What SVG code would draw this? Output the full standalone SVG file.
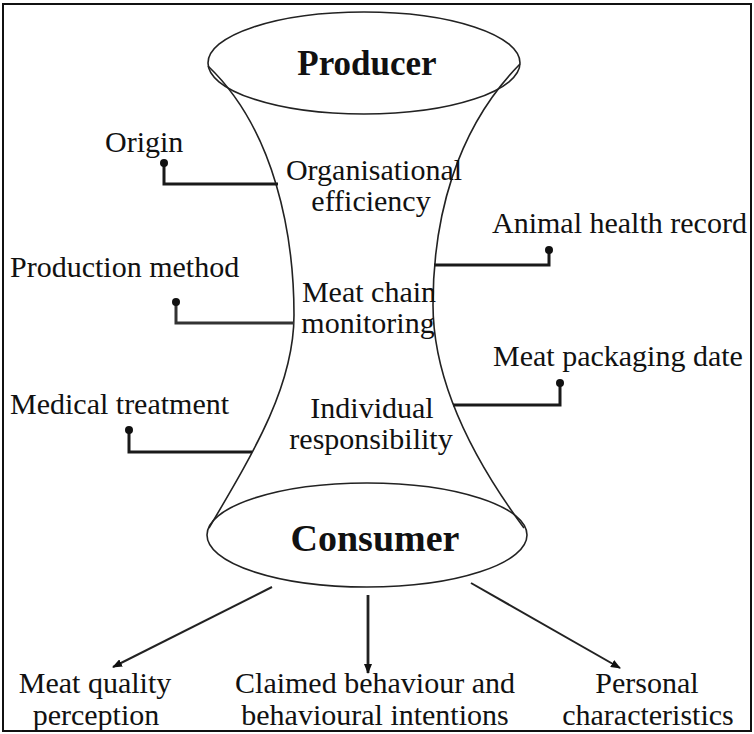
<svg xmlns="http://www.w3.org/2000/svg" width="754" height="734" viewBox="0 0 754 734">
<defs>
<marker id="ah" markerWidth="10" markerHeight="8" refX="9" refY="4" orient="auto" markerUnits="userSpaceOnUse">
<path d="M0,0 L10,4 L0,8 Z" fill="#111"/>
</marker>
<style>
text{font-family:"Liberation Serif","Times New Roman",serif;fill:#111;}
.lbl{font-size:30px;}
.mid{text-anchor:middle;}
.big{font-weight:bold;text-anchor:middle;}
.shape{fill:none;stroke:#222;stroke-width:1.6;}
.con{fill:none;stroke:#1a1a1a;stroke-width:3;}
.arr{fill:none;stroke:#222;stroke-width:2;marker-end:url(#ah);}
.dot{fill:#111;}
</style>
</defs>
<rect x="0" y="0" width="754" height="734" fill="#fff"/>
<rect x="3" y="4" width="748" height="727" fill="none" stroke="#111" stroke-width="2"/>

<g id="hourglass">
<path class="shape" d="M208,66 C275,130 294,235 294,315 C294,385 255,450 209,528"/>
<path class="shape" d="M520,64 C455,130 433,220 433,305 C433,380 470,455 524,528"/>
</g>

<g id="producer">
<ellipse class="shape" cx="364" cy="63" rx="156" ry="51"/>
<text class="big" x="367" y="75" font-size="35">Producer</text>
</g>

<g id="consumer">
<ellipse class="shape" cx="367" cy="535" rx="160" ry="52"/>
<text class="big" x="375" y="551" font-size="38">Consumer</text>
</g>

<g id="organisational-efficiency">
<text class="lbl mid" x="374" y="180">Organisational</text>
<text class="lbl mid" x="371" y="211">efficiency</text>
</g>
<g id="meat-chain-monitoring">
<text class="lbl mid" x="369" y="302">Meat chain</text>
<text class="lbl mid" x="368" y="333">monitoring</text>
</g>
<g id="individual-responsibility">
<text class="lbl mid" x="372" y="418">Individual</text>
<text class="lbl mid" x="371" y="449">responsibility</text>
</g>

<g id="origin"><text class="lbl" x="105" y="152">Origin</text></g>
<g id="production-method"><text class="lbl" x="10" y="277">Production method</text></g>
<g id="medical-treatment"><text class="lbl" x="10" y="414">Medical treatment</text></g>
<g id="animal-health-record"><text class="lbl" x="492" y="233">Animal health record</text></g>
<g id="meat-packaging-date"><text class="lbl" x="493" y="366">Meat packaging date</text></g>

<g id="meat-quality-perception">
<text class="lbl mid" x="95" y="693">Meat quality</text>
<text class="lbl mid" x="96" y="725">perception</text>
</g>
<g id="claimed-behaviour">
<text class="lbl mid" x="375" y="693">Claimed behaviour and</text>
<text class="lbl mid" x="375" y="725">behavioural intentions</text>
</g>
<g id="personal-characteristics">
<text class="lbl mid" x="647" y="693">Personal</text>
<text class="lbl mid" x="648" y="725">characteristics</text>
</g>

<g id="connectors">
<path class="con" d="M164,163 V184 H278"/>
<circle class="dot" cx="164" cy="163" r="4"/>
<path class="con" d="M176,302 V323 H294" stroke-width="2.2" style="stroke:#333"/>
<circle class="dot" cx="176" cy="302" r="4"/>
<path class="con" d="M129,430 V452 H252" stroke-width="2.6"/>
<circle class="dot" cx="129" cy="430" r="4"/>
<path class="con" d="M549,250 V265 H434"/>
<circle class="dot" cx="549" cy="250" r="4"/>
<path class="con" d="M560,383 V405 H453"/>
<circle class="dot" cx="560" cy="383" r="4"/>
<line class="arr" x1="272" y1="587" x2="113" y2="667"/>
<line class="arr" x1="368" y1="595" x2="368" y2="673" style="stroke-width:2.8"/>
<line class="arr" x1="471" y1="583" x2="620" y2="668"/>
</g>
</svg>
